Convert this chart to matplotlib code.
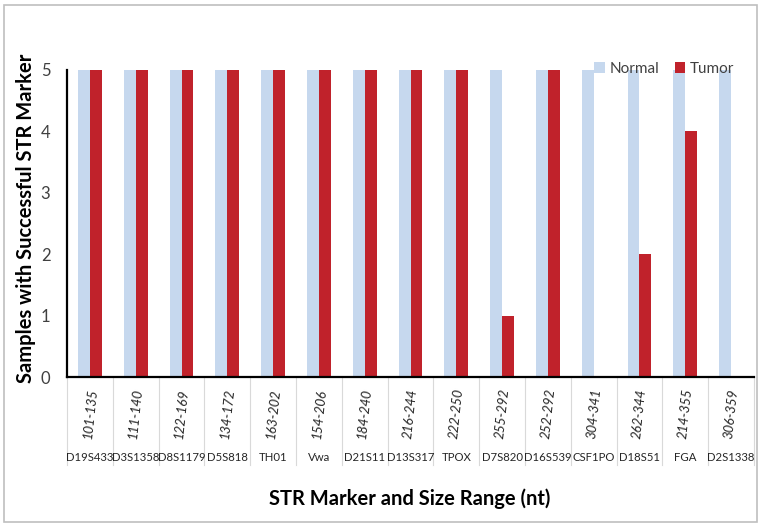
import matplotlib
matplotlib.use("Agg")
import matplotlib.pyplot as plt
from matplotlib.patches import Rectangle
import numpy as np

plt.rcParams['font.family'] = ['Lato', 'DejaVu Sans']

markers = ["D19S433", "D3S1358", "D8S1179", "D5S818", "TH01", "Vwa", "D21S11", "D13S317",
           "TPOX", "D7S820", "D16S539", "CSF1PO", "D18S51", "FGA", "D2S1338"]
size_ranges = ["101-135", "111-140", "122-169", "134-172", "163-202", "154-206", "184-240", "216-244",
               "222-250", "255-292", "252-292", "304-341", "262-344", "214-355", "306-359"]
normal = [5, 5, 5, 5, 5, 5, 5, 5, 5, 5, 5, 5, 5, 5, 5]
tumor = [5, 5, 5, 5, 5, 5, 5, 5, 5, 1, 5, 0, 2, 4, 0]

W, H = 764, 529
fig = plt.figure(figsize=(W / 100, H / 100), dpi=100)
ax = fig.add_axes([67 / W, 1 - 377 / H, 687 / W, 307 / H])

x = np.arange(len(markers))
bw = 0.26
ax.bar(x - bw / 2, normal, bw, color="#C6D8EE", label="Normal")
ax.bar(x + bw / 2, tumor, bw, color="#C0222B", label="Tumor")

ax.set_xlim(-0.5, len(markers) - 0.5)
ax.set_ylim(0, 5)
ax.set_yticks(range(6))
ax.tick_params(axis="y", length=0, labelsize=12, pad=12, colors="#404040")
ax.set_xticks([])
for s in ["top", "right"]:
    ax.spines[s].set_visible(False)
ax.spines["left"].set_linewidth(1.6)
ax.spines["bottom"].set_linewidth(1.6)

# two-level category axis
trans = ax.get_xaxis_transform()
for i in range(len(markers)):
    ax.text(i, -0.12, size_ranges[i], transform=trans, rotation=84, style="italic",
            ha="center", va="center", fontsize=9.5, color="#262626")
    ax.text(i, -0.262, markers[i], transform=trans, ha="center", va="center",
            fontsize=8.2, color="#262626")
for i in range(len(markers) + 1):
    ax.plot([i - 0.5, i - 0.5], [0, -0.287], transform=trans, color="#D9D9D9",
            lw=0.8, clip_on=False)

fig.text(26 / W, 1 - 218 / H, "Samples with Successful STR Marker", rotation=90,
         ha="center", va="center", fontsize=14.5, fontweight="bold")
fig.text(410 / W, 1 - 499 / H, "STR Marker and Size Range (nt)", ha="center", va="center",
         fontsize=14.5, fontweight="bold")

fig.legend(loc="upper right", bbox_to_anchor=(748 / W, 1 - 48 / H), ncol=2, frameon=False,
           handlelength=0.7, handleheight=0.7, handletextpad=0.3, columnspacing=1.0,
           fontsize=11, labelcolor="#404040")

fig.add_artist(Rectangle((4 / W, 1 - 522 / H), 753 / W, 517 / H, fill=False,
                         edgecolor="#BFBFBF", lw=1.2, transform=fig.transFigure))

fig.savefig("out.png", dpi=100)
